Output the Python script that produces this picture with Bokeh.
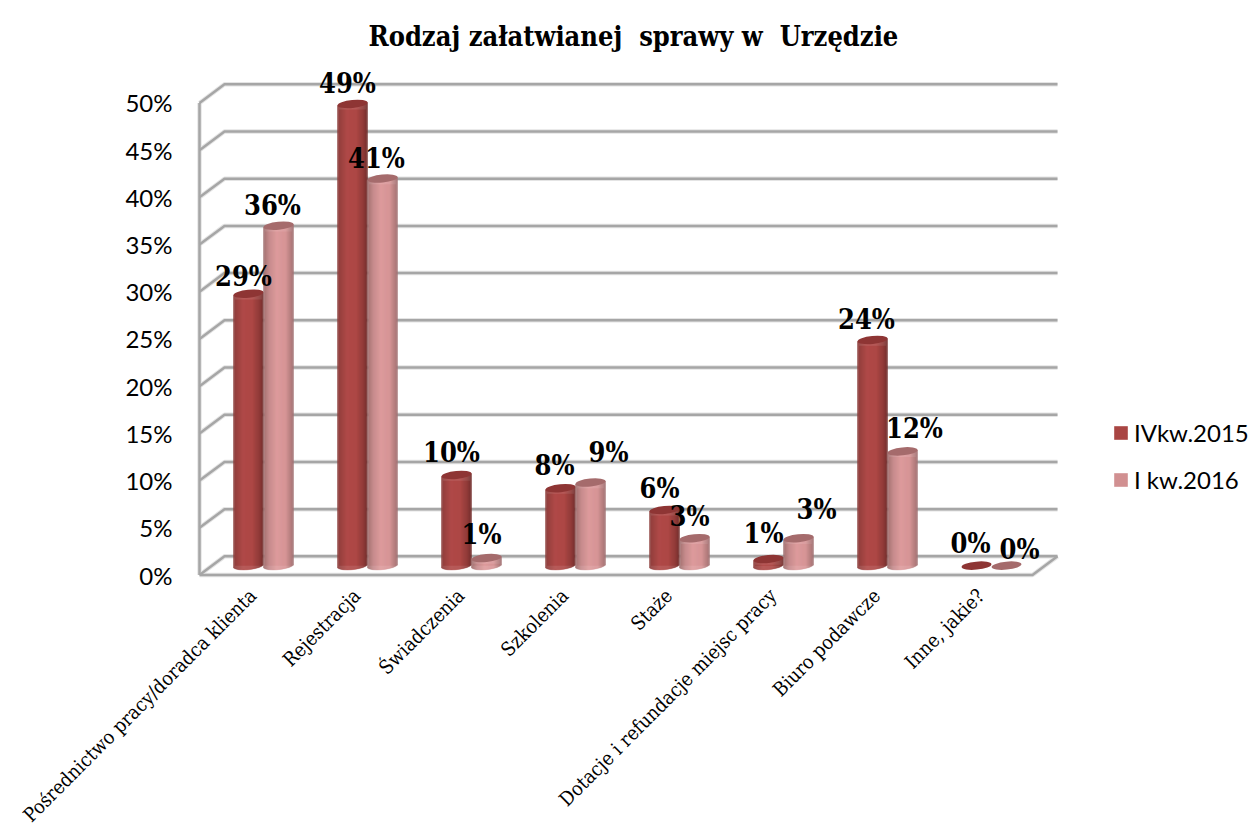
from bokeh.core.properties import value
from bokeh.embed import file_html
from bokeh.models import ColumnDataSource, FixedTicker, Legend, LegendItem, Range1d
from bokeh.plotting import figure
from bokeh.resources import INLINE
import numpy as np

categories = ["Pośrednictwo pracy/doradca klienta", "Rejestracja", "Świadczenia", "Szkolenia",
              "Staże", "Dotacje i refundacje miejsc pracy", "Biuro podawcze", "Inne, jakie?"]
series_names = ["IVkw.2015", "I kw.2016"]
q4_2015 = [28.8, 48.9, 9.6, 8.2, 5.9, 0.7, 23.9, 0.0]
q1_2016 = [36.0, 41.0, 0.8, 8.8, 2.9, 2.9, 12.1, 0.0]
y_ticks = list(range(0, 55, 5))

# nudges (px) that keep the data labels clear of neighbouring columns
label_dx = [[-5, -5, -5, -6, -5, -5, -6, -6], [-6, -6, -5, 18, -5, 18, 12, 13]]
label_dy = [[17, 20, 22, 23, 21, 26, 20, 22], [20, 20, 24, 30, 22, 29, 23, 16]]

PX_PER_GROUP = 104.0
PX_PER_PCT = 9.46
FRAME_L, FRAME_T, FRAME_B = 176, 70, 580
ZERO_PX, FIRST_GROUP_PX = 575.5, 263.0
DEPTH_X, DEPTH_Y = 25 / PX_PER_GROUP, 18.7 / PX_PER_PCT
WALL_X = (199 - FIRST_GROUP_PX) / PX_PER_GROUP
FLOOR_END_X = (1032 - FIRST_GROUP_PX) / PX_PER_GROUP
BAR_W = 30 / PX_PER_GROUP
BASE = 9.4 / PX_PER_PCT
RX, RY = 15.0, 4.0


def hex_rgb(h):
    return [int(h[i:i + 2], 16) for i in (1, 3, 5)]


def shade(u, stops):
    pos = [s[0] for s in stops]
    rgb = [np.interp(u, pos, [hex_rgb(s[1])[k] for s in stops]) for k in range(3)]
    return "#%02x%02x%02x" % tuple(int(round(c)) for c in rgb)


STOPS = [
    [(-1, "#8a3c3a"), (-0.35, "#b04a48"), (0.25, "#ae4846"), (0.75, "#8c3836"), (1, "#6f2c2b")],
    [(-1, "#9c6c6c"), (-0.6, "#c58b8c"), (-0.1, "#de9b9d"), (0.5, "#d69496"), (1, "#a07071")],
]
CAP = ["#8e3534", "#a56b6c"]
SWATCH = ["#a94543", "#d19091"]

p = figure(
    width=1252, height=837, output_backend="svg", toolbar_location=None,
    x_range=Range1d((FRAME_L - FIRST_GROUP_PX) / PX_PER_GROUP, (1252 - FIRST_GROUP_PX) / PX_PER_GROUP),
    y_range=Range1d((ZERO_PX - FRAME_B) / PX_PER_PCT, (ZERO_PX - FRAME_T) / PX_PER_PCT),
    min_border_left=FRAME_L, min_border_right=0, min_border_top=FRAME_T, min_border_bottom=837 - FRAME_B,
)
p.outline_line_color = None
p.grid.visible = False

p.title.text = "Rodzaj załatwianej \u00a0sprawy w \u00a0Urzędzie"
p.title.align = "left"
p.title.text_font = "DejaVu Serif Condensed"
p.title.text_font_size = "27px"
p.title.text_color = "#000000"
p.title.offset = 192
p.title.standoff = 37

# 3D walls and floor, derived from the value ticks
GRID = "#a6a6a6"
for width, color in ((4.5, "#e4e4e4"), (2.5, GRID)):
    xs, ys = [], []
    for t in y_ticks:
        xs.append([WALL_X, WALL_X + DEPTH_X, FLOOR_END_X + DEPTH_X])
        ys.append([t, t + DEPTH_Y, t + DEPTH_Y])
    xs.append([WALL_X, WALL_X])
    ys.append([y_ticks[0], y_ticks[-1]])
    xs.append([WALL_X, FLOOR_END_X, FLOOR_END_X + DEPTH_X])
    ys.append([0, 0, DEPTH_Y])
    p.multi_line(xs, ys, line_color=color, line_width=width)

# cylinders: a plain column for the legend, shaded strips and an elliptical cap on top
legend_items = []
for s, values in enumerate((q4_2015, q1_2016)):
    centers = [i + (s - 0.5) * BAR_W for i in range(len(categories))]
    bar = p.vbar(x=centers, width=BAR_W * 0.9, bottom=[BASE] * len(values),
                 top=[BASE + max(v - 0.6, 0) for v in values], fill_color=SWATCH[s], line_color=None)
    legend_items.append(LegendItem(label=series_names[s], renderers=[bar]))
    strips = dict(left=[], right=[], bottom=[], top=[], color=[])
    edges = np.linspace(-1, 1, 31)
    for c, v in zip(centers, values):
        if v <= 0:
            continue
        for a, b in zip(edges[:-1], edges[1:]):
            u = (a + b) / 2
            curve = np.sqrt(max(1 - u * u, 0)) * RY / PX_PER_PCT
            tilt = u * 1.5 / PX_PER_PCT
            strips["left"].append(c + a * BAR_W / 2)
            strips["right"].append(c + b * BAR_W / 2)
            strips["bottom"].append(BASE - curve + tilt)
            strips["top"].append(BASE + v + tilt)
            strips["color"].append(shade(u, STOPS[s]))
    p.quad(source=ColumnDataSource(strips), left="left", right="right", bottom="bottom", top="top",
           fill_color="color", line_color="color", line_width=0.4)
    p.ellipse(x=centers, y=[BASE + v for v in values], width=2 * RX, height=2 * RY,
              width_units="screen", height_units="screen", angle=0.1,
              fill_color=CAP[s], line_color=None)

# value labels above the columns
for s, values in enumerate((q4_2015, q1_2016)):
    centers = [i + (s - 0.5) * BAR_W for i in range(len(categories))]
    p.text(x=centers, y=[BASE + v for v in values], text=[f"{round(v)}%" for v in values],
           x_offset=label_dx[s], y_offset=[-d for d in label_dy[s]],
           text_font=value("DejaVu Serif Condensed"), text_font_style="bold", text_font_size="27px",
           text_color="#000000", text_align="center", text_baseline="middle")

p.yaxis.ticker = FixedTicker(ticks=y_ticks)
p.yaxis.major_label_overrides = {t: f"{t}%" for t in y_ticks}
p.yaxis.axis_line_color = None
p.yaxis.major_tick_line_color = None
p.yaxis.minor_tick_line_color = None
p.yaxis.major_label_standoff = -2
p.yaxis.major_label_text_font = "Lato"
p.yaxis.major_label_text_font_size = "24px"
p.yaxis.major_label_text_color = "#000000"

# category labels end just left of each group's centre
x_ticks = [i - 0.1 for i in range(len(categories))]
p.xaxis.ticker = FixedTicker(ticks=x_ticks)
p.xaxis.major_label_overrides = dict(zip(x_ticks, categories))
p.xaxis.major_label_orientation = np.pi / 4
p.xaxis.axis_line_color = None
p.xaxis.major_tick_line_color = None
p.xaxis.minor_tick_line_color = None
p.xaxis.major_label_standoff = 7
p.xaxis.major_label_text_font = "DejaVu Serif Condensed"
p.xaxis.major_label_text_font_size = "19.5px"
p.xaxis.major_label_text_color = "#000000"

legend = Legend(items=legend_items, location=(936, 85), background_fill_alpha=0, border_line_color=None,
                glyph_width=17, glyph_height=17, spacing=18, margin=0, padding=0, label_standoff=5,
                label_text_font="Lato", label_text_font_size="24px", label_text_color="#000000")
p.add_layout(legend, "center")

open("out.html", "w").write(file_html(p, INLINE))
